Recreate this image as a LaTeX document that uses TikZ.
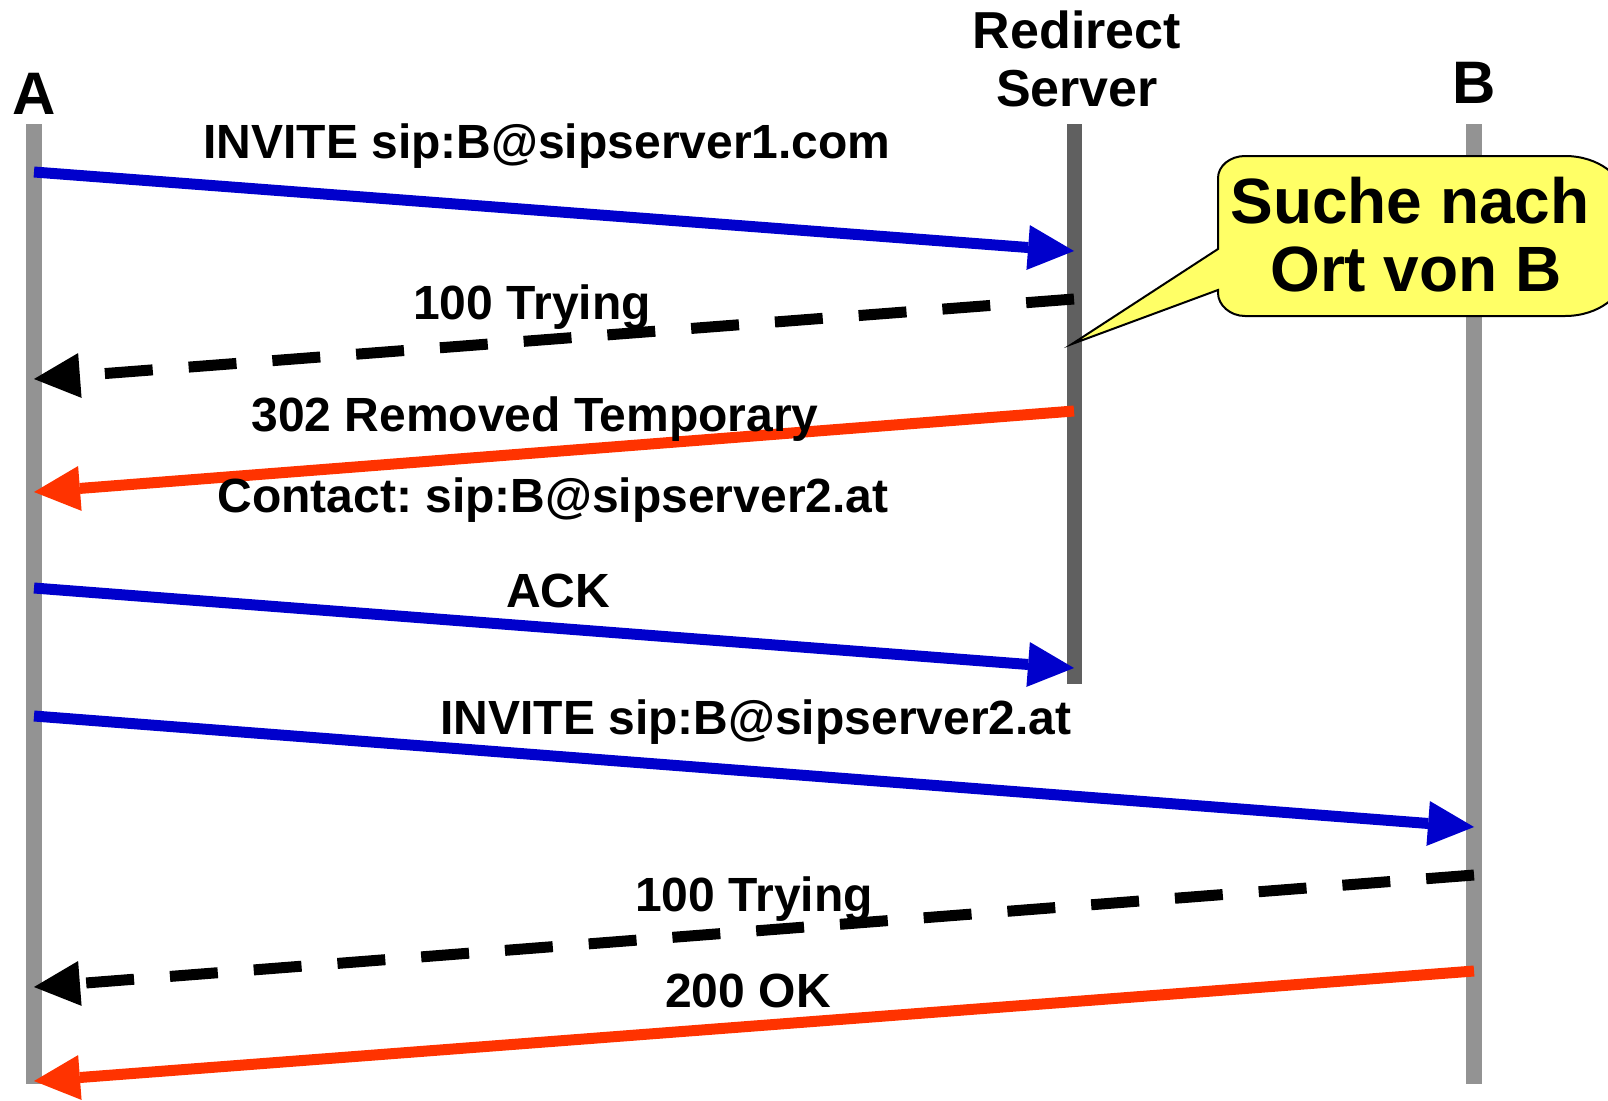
\documentclass[tikz,border=0pt]{standalone}
\usepackage{fontspec}
\setmainfont{Liberation Sans}
\usetikzlibrary{arrows.meta}
\definecolor{msgblue}{HTML}{0000CC}
\definecolor{msgred}{HTML}{FF3300}
\definecolor{linegray}{HTML}{939393}
\definecolor{servergray}{HTML}{606060}
\definecolor{notefill}{HTML}{FFFF66}
\frenchspacing
\begin{document}
\begin{tikzpicture}[x=1pt,y=-1pt,
  lifeline/.style={line width=16pt,color=linegray},
  srvline/.style={line width=15pt,color=servergray},
  msg/.style={line width=11pt,-{Triangle[length=46pt,width=45pt,line width=0pt]}},
  req/.style={msg,color=msgblue},
  resp/.style={msg,color=msgred},
  prov/.style={msg,color=black,dash pattern=on 48pt off 36pt},
  lbl/.style={font=\fontsize{48}{56}\bfseries\selectfont,anchor=base,inner sep=0pt},
  hdr/.style={font=\fontsize{60}{68}\bfseries\selectfont,anchor=base,inner sep=0pt},
  srvhdr/.style={font=\fontsize{52}{58}\bfseries\selectfont,anchor=base,inner sep=0pt},
  notetext/.style={font=\fontsize{64}{70}\bfseries\selectfont,anchor=base,inner sep=0pt},
]
\useasboundingbox (0,0) rectangle (1608,1100);
\clip (0,0) rectangle (1608,1100);

% lifelines
\coordinate (Atop) at (34,124);   \coordinate (Abot) at (34,1084);
\coordinate (Stop) at (1074,124); \coordinate (Sbot) at (1074,684);
\coordinate (Btop) at (1474,124); \coordinate (Bbot) at (1474,1084);
\draw[lifeline] (Atop) -- (Abot);
\draw[srvline] (Stop) -- (Sbot);
\draw[lifeline] (Btop) -- (Bbot);

% party names
\node[hdr] (nameA) at (34,114) {A};
\node[hdr] (nameB) at (1474,103) {B};
\node[srvhdr] (nameS1) at (1077,48) {Redirect};
\node[srvhdr] (nameS2) at (1077,106) {Server};

% message end points
\coordinate (m1a) at (34,172);   \coordinate (m1s) at (1074,251);
\coordinate (m2s) at (1074,299); \coordinate (m2a) at (34,379);
\coordinate (m3s) at (1074,411); \coordinate (m3a) at (34,492);
\coordinate (m4a) at (34,588);   \coordinate (m4s) at (1074,668);
\coordinate (m5a) at (34,716);   \coordinate (m5b) at (1474,827);
\coordinate (m6b) at (1474,875); \coordinate (m6a) at (34,987);
\coordinate (m7b) at (1474,971); \coordinate (m7a) at (34,1081);

% messages
\draw[req]  (m1a) -- (m1s);
\draw[prov] (m2s) -- (m2a);
\draw[resp] (m3s) -- (m3a);
\draw[req]  (m4a) -- (m4s);
\draw[req]  (m5a) -- (m5b);
\draw[prov] (m6b) -- (m6a);
\draw[resp] (m7b) -- (m7a);

% message labels
\node[lbl] (l1) at (547,158) {INVITE sip:B@sipserver1.com};
\node[lbl] (l2) at (532,319) {100 Trying};
\node[lbl] (l3) at (535,431) {302 Removed Temporary};
\node[lbl] (l4) at (553,512) {Contact: sip:B@sipserver2.at};
\node[lbl] (l5) at (558,607) {ACK};
\node[lbl] (l6) at (756,734) {INVITE sip:B@sipserver2.at};
\node[lbl] (l7) at (754,911) {100 Trying};
\node[lbl] (l8) at (748,1007) {200 OK};

% callout on the redirect server
\coordinate (tip) at (1072,344);
\filldraw[fill=notefill,draw=black,line width=2pt,line join=miter]
  (tip) -- (1218,290) -- (1218,293)
  .. controls (1218,305) and (1230,316) .. (1245,316) -- (1565,316)
  .. controls (1598,316) and (1625,296) .. (1625,271) -- (1625,201)
  .. controls (1625,176) and (1598,156) .. (1565,156) -- (1245,156)
  .. controls (1230,156) and (1218,166) .. (1218,178) -- (1218,249) -- cycle;
\node[notetext] (n1) at (1410,223) {Suche nach};
\node[notetext] (n2) at (1416,291) {Ort von B};
\end{tikzpicture}
\end{document}
